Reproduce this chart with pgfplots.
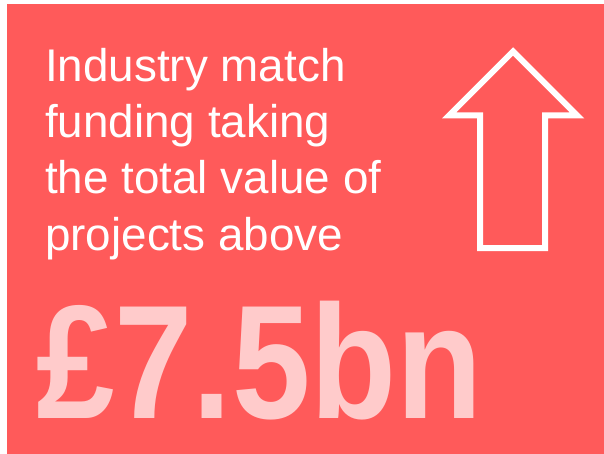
\documentclass[border=0pt]{standalone}
\usepackage{pgfplots}
\pgfplotsset{compat=1.18}
\usepackage{fontspec}
\setmainfont{Liberation Sans}
\definecolor{panelred}{HTML}{FF5A5A}
\definecolor{panelpink}{HTML}{FFCBCB}
\begin{document}
\begin{tikzpicture}[
    small/.style={anchor=base west, inner sep=0pt, text=white,
                  font=\fontsize{45.8}{56}\selectfont},
  ]
  \begin{axis}[
      width=604pt, height=454pt,
      scale only axis,
      xmin=0, xmax=604,
      ymin=0, ymax=454,
      y dir=reverse,
      hide axis,
      clip=false,
    ]
    % page and panel
    \addplot [fill=white, draw=none] coordinates {
      (0,0) (604,0) (604,454) (0,454)
    } -- cycle;
    \addplot [fill=panelred, draw=none] coordinates {
      (7,4) (604,4) (604,454) (7,454)
    } -- cycle;
    % outlined up arrow
    \addplot [draw=white, line width=6pt, line join=miter, mark=none] coordinates {
      (513,51.5) (577,115.5) (545,115.5) (545,248)
      (480,248) (480,115.5) (449,115.5)
    } -- cycle;
    \node [small] at (axis cs:45,82)  {Industry match};
    \node [small] at (axis cs:45,138) {funding taking};
    \node [small] at (axis cs:45,194) {the total value of};
    \node [small] at (axis cs:45,250) {projects above};
    \node [anchor=base west, inner sep=0pt, text=panelpink,
           font=\fontsize{162}{162}\selectfont\bfseries]
      at (axis cs:36,418)
      {\scalebox{0.87}[1]{£7.5bn}};
  \end{axis}
\end{tikzpicture}
\end{document}
